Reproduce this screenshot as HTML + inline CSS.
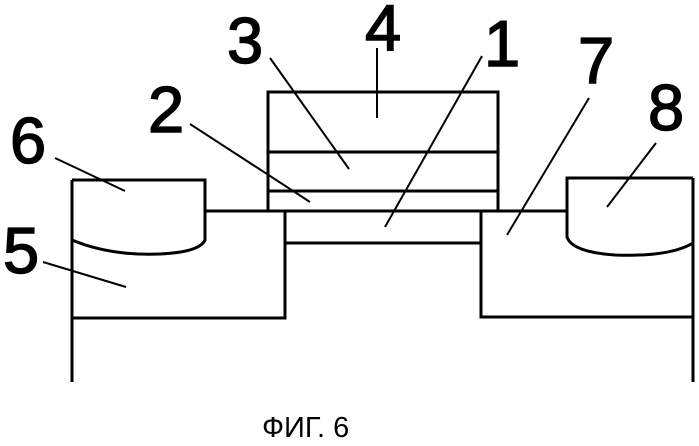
<!DOCTYPE html>
<html><head><style>
html,body{margin:0;padding:0;background:#fff;}
svg{display:block;}
text{font-family:"Liberation Sans",Arial,sans-serif;fill:#000;}
</style></head><body>
<svg width="699" height="446" viewBox="0 0 699 446" xmlns="http://www.w3.org/2000/svg">
<g fill="none" stroke="#000" stroke-width="3" stroke-linejoin="miter">
<line x1="72" y1="180" x2="72" y2="382"/>
<path d="M72 180 H205 V240 Q200 252 160 254 Q110 256 72 240"/>
<line x1="205" y1="211" x2="268" y2="211"/>
<path d="M72 318 H285 V211"/>
<rect x="268" y="92" width="230" height="119"/>
<line x1="268" y1="152" x2="498" y2="152"/>
<line x1="268" y1="191" x2="498" y2="191"/>
<line x1="285" y1="243" x2="481" y2="243"/>
<line x1="498" y1="211" x2="567" y2="211"/>
<path d="M481 211 V317 H693"/>
<path d="M693 178 H567 V237 Q572 252 615 255 Q670 257 693 243"/>
<line x1="693" y1="178" x2="693" y2="382"/>
</g>
<g stroke="#000" stroke-width="2">
<line x1="377" y1="48" x2="377" y2="118"/>
<line x1="270" y1="58" x2="349" y2="169"/>
<line x1="190" y1="124" x2="310" y2="202"/>
<line x1="55" y1="158" x2="125" y2="191"/>
<line x1="43" y1="262" x2="126" y2="287"/>
<line x1="482" y1="56" x2="385" y2="227"/>
<line x1="589" y1="98" x2="507" y2="235"/>
<line x1="656" y1="143" x2="607" y2="207"/>
</g>
<g font-size="65" stroke="#000" stroke-width="1.5">
<text x="365" y="50">4</text>
<text x="227" y="63">3</text>
<text x="148" y="132">2</text>
<text x="10" y="163">6</text>
<text x="3" y="273">5</text>
<text x="484" y="66">1</text>
<text x="578" y="83">7</text>
<text x="648" y="130">8</text>
</g>
<text x="262" y="437" font-size="29">ФИГ. 6</text>
</svg>
</body></html>
